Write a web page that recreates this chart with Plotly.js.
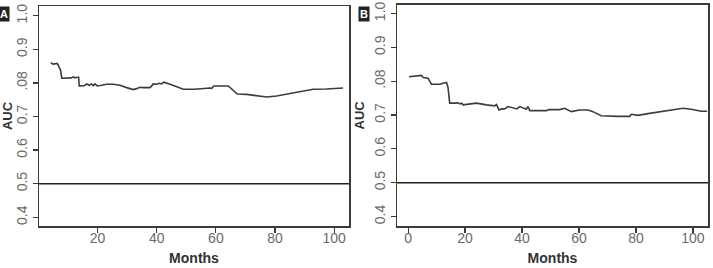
<!DOCTYPE html>
<html>
<head>
<meta charset="utf-8">
<script src="https://cdn.plot.ly/plotly-3.0.1.min.js"></script>
<style>
  html, body { margin: 0; padding: 0; background: #fff; }
  #chart { width: 713px; height: 268px; }
</style>
</head>
<body>
<div id="chart"></div>
<script>
// Panel A: time-dependent AUC
const monthsA = [4.2, 5.0, 6.4, 6.9, 7.5, 7.9, 11.2, 11.8, 12.4, 13.1, 13.6, 13.8, 15.5, 16.3, 17.2, 18.0, 18.6, 19.1, 19.9, 21.4, 23.0, 25.3, 27.6, 29.8, 32.1, 33.2, 34.3, 35.4, 36.6, 37.7, 38.3, 38.8, 39.9, 40.8, 41.6, 42.4, 44.5, 46.5, 49.0, 52.9, 55.7, 58.0, 58.6, 59.3, 64.2, 65.9, 67.2, 70.4, 73.7, 77.1, 80.5, 85.0, 89.5, 92.9, 97.4, 99.7, 103.0];
const aucA = [0.860, 0.856, 0.858, 0.848, 0.838, 0.814, 0.815, 0.818, 0.815, 0.817, 0.817, 0.791, 0.792, 0.797, 0.793, 0.797, 0.792, 0.797, 0.791, 0.793, 0.796, 0.796, 0.793, 0.786, 0.780, 0.783, 0.787, 0.786, 0.787, 0.786, 0.791, 0.797, 0.796, 0.799, 0.797, 0.802, 0.796, 0.789, 0.781, 0.781, 0.784, 0.785, 0.784, 0.791, 0.791, 0.777, 0.767, 0.766, 0.762, 0.758, 0.761, 0.768, 0.775, 0.781, 0.782, 0.784, 0.785];

// Panel B: time-dependent AUC
const monthsB = [0.35, 3.9, 4.7, 5.3, 6.2, 7.0, 8.2, 11.1, 12.3, 13.5, 14.0, 14.6, 16.4, 17.5, 18.2, 18.8, 19.3, 20.5, 21.6, 24.0, 27.5, 30.4, 31.0, 31.9, 33.0, 33.9, 35.1, 37.4, 38.2, 39.2, 40.6, 41.5, 42.1, 42.7, 45.6, 48.6, 49.5, 53.2, 55.0, 57.3, 60.2, 63.2, 64.9, 67.8, 73.7, 77.8, 78.4, 80.7, 84.2, 88.9, 93.6, 96.5, 99.4, 102.9, 105.0];
const aucB = [0.813, 0.815, 0.817, 0.811, 0.811, 0.809, 0.791, 0.791, 0.794, 0.796, 0.782, 0.735, 0.735, 0.736, 0.733, 0.735, 0.730, 0.731, 0.733, 0.735, 0.730, 0.727, 0.731, 0.715, 0.718, 0.718, 0.725, 0.720, 0.718, 0.725, 0.720, 0.717, 0.725, 0.713, 0.713, 0.713, 0.716, 0.716, 0.720, 0.710, 0.715, 0.715, 0.710, 0.698, 0.696, 0.696, 0.702, 0.699, 0.704, 0.710, 0.715, 0.720, 0.717, 0.711, 0.711];

// Reference line (chance level)
const chanceAUC = 0.5;

// Tick labels (as printed in the figure)
const yTickVals = [0.4, 0.5, 0.6, 0.7, 0.8, 0.9, 1.0];
const yTickText = ["0.4", "0.5", "0.6", "0.7", ".08", "0.9", "1.0"];
const xTickValsA = [20, 40, 60, 80, 100];
const xTickValsB = [0, 20, 40, 60, 80, 100];
const panelLabels = ["A", "B"];

const lineColor = '#3c3c3c';
const axisColor = '#3a3a3a';
const tickFont = { family: 'Liberation Sans Narrow, Arial Narrow, Liberation Sans, sans-serif', size: 14, color: '#6a6a6a' };
const yTitleFont = { family: 'Liberation Sans, Arial, sans-serif', size: 13, color: '#333', weight: 'bold' };
const xTitleFont = { family: 'Liberation Sans, Arial, sans-serif', size: 14, color: '#333', weight: 'bold' };

const traces = [
  { x: monthsA, y: aucA, xaxis: 'x', yaxis: 'y', mode: 'lines', line: { color: lineColor, width: 1.6 }, hoverinfo: 'x+y', showlegend: false },
  { x: monthsB, y: aucB, xaxis: 'x2', yaxis: 'y2', mode: 'lines', line: { color: lineColor, width: 1.6 }, hoverinfo: 'x+y', showlegend: false }
];

function xAxis(domain, range, tickvals, anchor) {
  return {
    domain: domain, range: range, anchor: anchor,
    tickmode: 'array', tickvals: tickvals,
    showgrid: false, zeroline: false,
    showline: true, mirror: true, linecolor: axisColor, linewidth: 1.5,
    ticks: 'outside', ticklen: 5, tickwidth: 1.2, tickcolor: axisColor,
    tickfont: tickFont, ticklabelstandoff: -6,
    title: { text: 'Months', font: xTitleFont, standoff: 8 }
  };
}
function yAxis(domain, range, anchor) {
  return {
    domain: domain, range: range, anchor: anchor,
    tickmode: 'array', tickvals: yTickVals, ticktext: yTickText, tickangle: -90,
    showgrid: false, zeroline: false,
    showline: true, mirror: true, linecolor: axisColor, linewidth: 1.5,
    ticks: 'outside', ticklen: 5, tickwidth: 1.2, tickcolor: axisColor,
    tickfont: tickFont,
    title: { text: 'AUC', font: yTitleFont, standoff: 4 }
  };
}

const layout = {
  width: 713, height: 268,
  margin: { l: 0, r: 0, t: 0, b: 0 },
  paper_bgcolor: '#fff', plot_bgcolor: '#fff',
  xaxis: xAxis([39/713, 349/713], [0.2, 105], xTickValsA, 'y'),
  yaxis: yAxis([1 - 226/268, 1 - 6/268], [0.374, 1.029], 'x'),
  xaxis2: xAxis([397/713, 708/713], [-3.9, 105.3], xTickValsB, 'y2'),
  yaxis2: yAxis([1 - 226/268, 1 - 4.7/268], [0.372, 1.026], 'x2'),
  shapes: [
    { type: 'line', xref: 'x domain', yref: 'y', x0: 0, x1: 1, y0: chanceAUC, y1: chanceAUC, line: { color: '#222', width: 1.4 } },
    { type: 'line', xref: 'x2 domain', yref: 'y2', x0: 0, x1: 1, y0: chanceAUC, y1: chanceAUC, line: { color: '#222', width: 1.4 } }
  ],
  annotations: [
    { text: '<b>' + panelLabels[0] + '</b>', xref: 'paper', yref: 'paper', x: 4/713, y: 1 - 14.5/268, xanchor: 'center', yanchor: 'middle', showarrow: false, font: { family: 'Liberation Sans Narrow, Liberation Sans, sans-serif', size: 11, color: '#fff' }, bgcolor: '#222', borderpad: 1 },
    { text: '<b>' + panelLabels[1] + '</b>', xref: 'paper', yref: 'paper', x: 363.5/713, y: 1 - 14.5/268, xanchor: 'center', yanchor: 'middle', showarrow: false, font: { family: 'Liberation Sans Narrow, Liberation Sans, sans-serif', size: 11, color: '#fff' }, bgcolor: '#222', borderpad: 1 }
  ]
};

Plotly.newPlot('chart', traces, layout, { staticPlot: true, displayModeBar: false });
</script>
</body>
</html>
